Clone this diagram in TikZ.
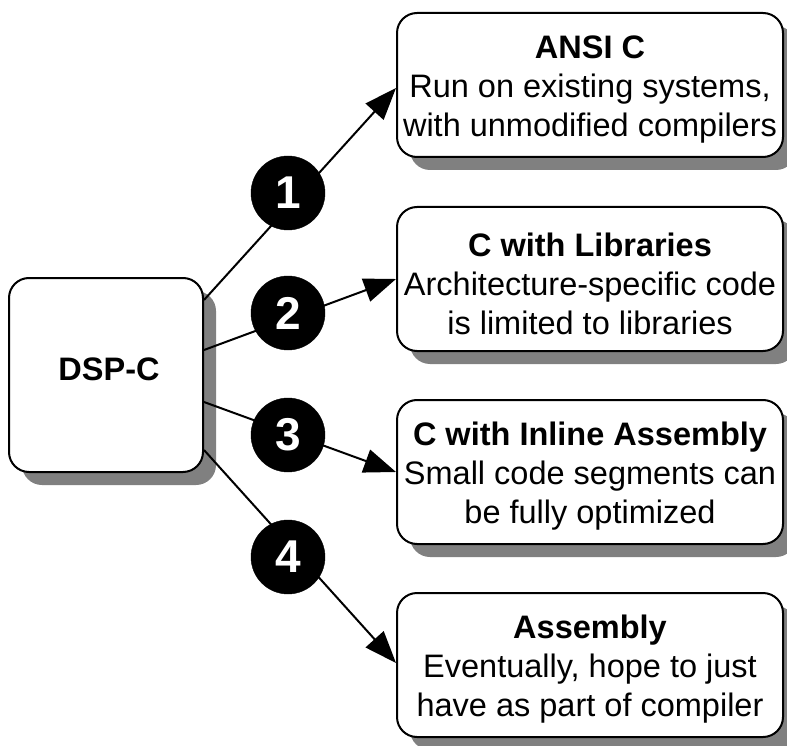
\documentclass[tikz,border=0pt]{standalone}
\usepackage{fontspec}
\setmainfont{Liberation Sans}
\usetikzlibrary{arrows.meta,shadows}
\begin{document}
\begin{tikzpicture}[x=1pt,y=-1pt,
  box/.style={draw=black, line width=2pt, fill=white, rounded corners=20pt,
    inner sep=0pt,
    drop shadow={shadow xshift=13pt, shadow yshift=-13pt, fill=shadowgray, opacity=1}},
  boxtext/.style={inner sep=0pt, align=center, font=\fontsize{32.5}{39}\selectfont},
  numdot/.style={circle, fill=black, draw=black, minimum size=74pt, inner sep=0pt,
    text=white, font=\fontsize{46}{46}\bfseries\selectfont},
  conn/.style={line width=2pt, -{Triangle[length=32pt,width=24pt]}}
]
\definecolor{shadowgray}{RGB}{128,128,128}
\useasboundingbox (0,0) rectangle (787,746);
\node[box, minimum width=194pt, minimum height=194pt] (dsp) at (106,375) {};
\node[box, minimum width=386pt, minimum height=144pt] (a) at (590,85) {};
\node[box, minimum width=386pt, minimum height=144pt] (b) at (590,279) {};
\node[box, minimum width=386pt, minimum height=144pt] (c) at (590,472) {};
\node[box, minimum width=386pt, minimum height=144pt] (d) at (590,665) {};
\node[boxtext] (dsptext) at (109,369) {\textbf{DSP-C}};
\node[boxtext] (atext) at (590,90)
  {\textbf{ANSI C}\\Run on existing systems,\\with unmodified compilers};
\node[boxtext] (btext) at (590,284)
  {\textbf{C with Libraries}\\Architecture-specific code\\is limited to libraries};
\node[boxtext] (ctext) at (590,476)
  {\textbf{C with Inline Assembly}\\Small code segments can\\be fully optimized};
\node[boxtext] (dtext) at (590,669)
  {\textbf{Assembly}\\Eventually, hope to just\\have as part of compiler};
\coordinate (s1) at ([yshift=75pt]dsp.east);
\coordinate (s2) at ([yshift=25pt]dsp.east);
\coordinate (s3) at ([yshift=-27pt]dsp.east);
\coordinate (s4) at ([yshift=-75pt]dsp.east);
\draw[conn] (s1) -- ([yshift=-3pt]a.west);
\draw[conn] (s2) -- (b.west);
\draw[conn] (s3) -- (c.west);
\draw[conn] (s4) -- ([yshift=2pt]d.west);
\node[numdot] (n1) at (288,193) {1};
\node[numdot] (n2) at (288,313) {2};
\node[numdot] (n3) at (288,435) {3};
\node[numdot] (n4) at (288,557) {4};
\end{tikzpicture}
\end{document}
